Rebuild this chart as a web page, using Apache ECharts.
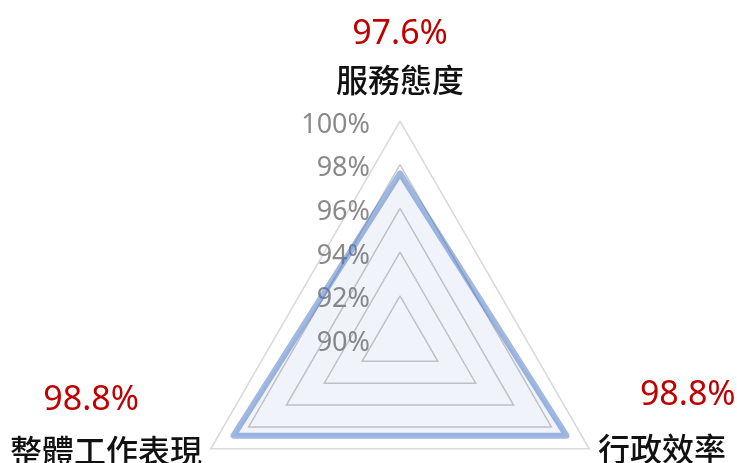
<!DOCTYPE html>
<html>
<head>
<meta charset="utf-8">
<script src="https://cdn.jsdelivr.net/npm/echarts@6/dist/echarts.min.js"></script>
<style>
  html, body { margin: 0; padding: 0; background: #fff; }
  #chart { width: 737px; height: 463px; }
</style>
</head>
<body>
<div id="chart"></div>
<script>
// Survey satisfaction by dimension (percent)
const indicators = ['服務態度', '整體工作表現', '行政效率'];
const values = [97.6, 98.8, 98.8];
const scaleMin = 90;
const scaleMax = 100;
const scaleStep = 2;

// per-indicator rich-text keys for the value line and spacer line
const valueKeys = ['vT', 'vL', 'vR'];
const spacerKeys = ['eT', 'eL', 'eR'];

const chart = echarts.init(document.getElementById('chart'));

const valueFont = { color: '#c00000', fontSize: 34, fontFamily: 'Noto Sans' };

chart.setOption({
  animation: false,
  radar: {
    center: [400, 339.5],
    radius: 218.5,
    startAngle: 90,
    shape: 'polygon',
    splitNumber: (scaleMax - scaleMin) / scaleStep,
    nameGap: 10,
    indicator: indicators.map((name, i) => {
      const ind = { name: name, min: scaleMin, max: scaleMax };
      if (i === 0) ind.axisLabel = { show: true };
      return ind;
    }),
    axisName: {
      formatter: (name) => {
        const i = indicators.indexOf(name);
        const v = values[i].toFixed(1) + '%';
        return '{' + valueKeys[i] + '|' + v + '}\n{n|' + name + '}\n{' + spacerKeys[i] + '|}';
      },
      rich: {
        vT: Object.assign({ lineHeight: 40, align: 'center' }, valueFont),
        vL: Object.assign({ lineHeight: 51, align: 'center', padding: [0, 30, 0, 0] }, valueFont),
        vR: Object.assign({ lineHeight: 58, align: 'left', padding: [0, 0, 0, 42] }, valueFont),
        n: { color: '#111', fontSize: 32, fontWeight: 500, lineHeight: 50, fontFamily: 'Noto Sans CJK TC' },
        eT: { lineHeight: 2 },
        eL: { lineHeight: 57 },
        eR: { lineHeight: 67 }
      }
    },
    axisLine: { show: false },
    axisTick: { show: false },
    axisLabel: {
      show: false,
      margin: 30,
      showMinLabel: true,
      showMaxLabel: true,
      formatter: (v) => '{t|' + v + '%}',
      rich: {
        t: { color: '#8a8a8a', fontSize: 27, fontFamily: 'Noto Sans', padding: [8, 0, 0, 0] }
      }
    },
    splitArea: { show: false },
    splitLine: {
      lineStyle: {
        color: ['#c9c9c9', '#c9c9c9', '#c9c9c9', '#c9c9c9', '#c9c9c9', '#d9d9d9'],
        width: 1.5
      }
    }
  },
  series: [{
    type: 'radar',
    symbol: 'none',
    lineStyle: { color: 'rgba(68,114,196,0.5)', width: 6, join: 'round', cap: 'round' },
    areaStyle: { color: 'rgba(68,114,196,0.11)' },
    data: [{ value: values }]
  }]
});
</script>
</body>
</html>
